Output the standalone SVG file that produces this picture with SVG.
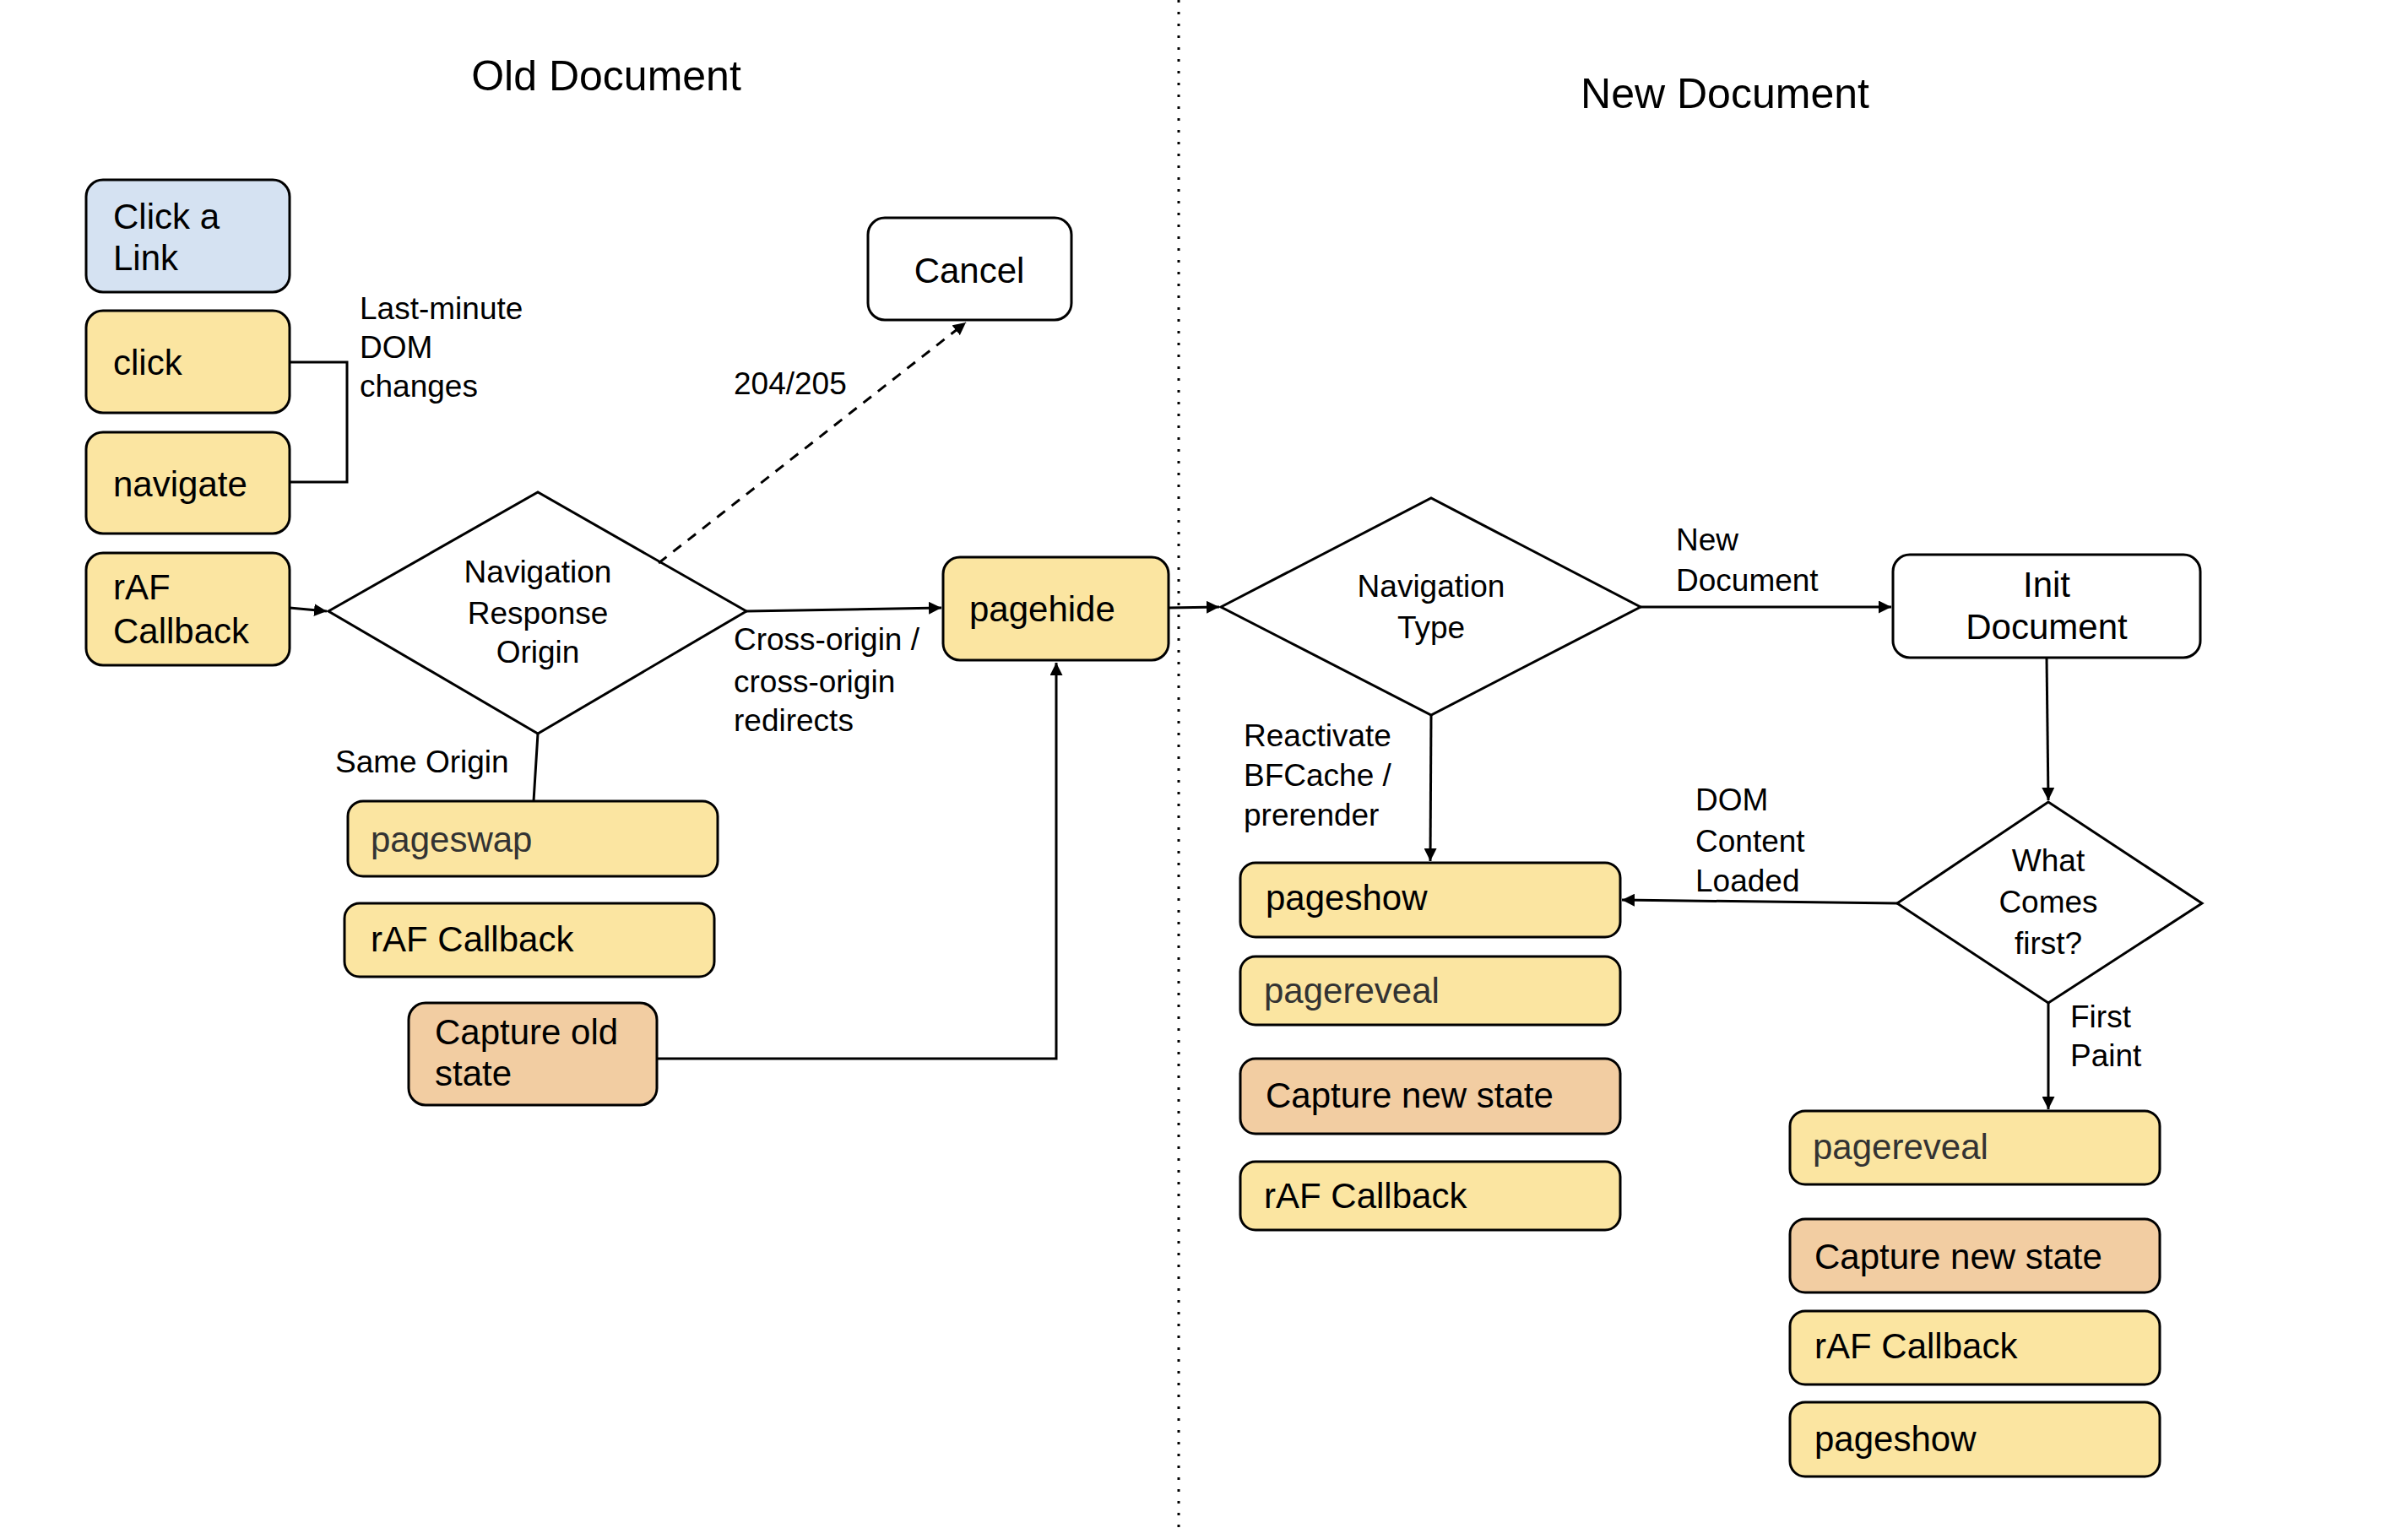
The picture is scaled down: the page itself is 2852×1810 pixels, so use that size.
<svg xmlns="http://www.w3.org/2000/svg" width="2852" height="1810" viewBox="0 0 2852 1810">
<style>
.b{stroke:#000;stroke-width:3}
.y{fill:#fbe5a1}.o{fill:#f2cda2}.u{fill:#d5e2f2}.w{fill:#fff}
text{font-family:"Liberation Sans",Arial,sans-serif;fill:#000}
.t{font-size:42px}.l{font-size:37px}.h{font-size:50px}
.g{fill:#333}
.c{fill:none;stroke:#000;stroke-width:3}
</style>
<defs><marker id="a" viewBox="0 0 10 10" refX="10" refY="5" markerWidth="5" markerHeight="5" orient="auto"><path d="M0,0L10,5L0,10z"/></marker></defs>
<rect width="2852" height="1810" fill="#fff"/>
<line x1="1396" y1="0" x2="1396" y2="1810" stroke="#000" stroke-width="3" stroke-dasharray="3,11"/>
<text class="h" x="718" y="107" text-anchor="middle">Old Document</text>
<text class="h" x="2043" y="128" text-anchor="middle">New Document</text>
<g id="n1"><rect class="b u" x="102" y="213" width="241" height="133" rx="20"/><text class="t" x="134" y="271">Click a</text><text class="t" x="134" y="320">Link</text></g>
<g id="n2"><rect class="b y" x="102" y="368" width="241" height="121" rx="20"/><text class="t" x="134" y="444">click</text></g>
<g id="n3"><rect class="b y" x="102" y="512" width="241" height="120" rx="20"/><text class="t" x="134" y="588">navigate</text></g>
<g id="n4"><rect class="b y" x="102" y="655" width="241" height="133" rx="20"/><text class="t" x="134" y="710">rAF</text><text class="t" x="134" y="762">Callback</text></g>
<g id="n5"><rect class="b w" x="1028" y="258" width="241" height="121" rx="20"/><text class="t" x="1148" y="335" text-anchor="middle">Cancel</text></g>
<g id="n6"><polygon class="b w" points="389,724 637,583 884,724 637,869"/><text class="l" text-anchor="middle" x="637" y="690">Navigation</text><text class="l" text-anchor="middle" x="637" y="739">Response</text><text class="l" text-anchor="middle" x="637" y="785">Origin</text></g>
<g id="n7"><rect class="b y" x="1117" y="660" width="267" height="122" rx="20"/><text class="t" x="1148" y="736">pagehide</text></g>
<g id="n8"><rect class="b y" x="412" y="949" width="438" height="89" rx="18"/><text class="t g" x="439" y="1009">pageswap</text></g>
<g id="n9"><rect class="b y" x="408" y="1070" width="438" height="87" rx="18"/><text class="t" x="439" y="1127">rAF Callback</text></g>
<g id="n10"><rect class="b o" x="484" y="1188" width="294" height="121" rx="20"/><text class="t" x="515" y="1237">Capture old</text><text class="t" x="515" y="1286">state</text></g>
<g id="n11"><polygon class="b w" points="1446,719 1695,590 1943,719 1695,847"/><text class="l" text-anchor="middle" x="1695" y="707">Navigation</text><text class="l" text-anchor="middle" x="1695" y="756">Type</text></g>
<g id="n12"><rect class="b w" x="2242" y="657" width="364" height="122" rx="20"/><text class="t" text-anchor="middle" x="2424" y="707">Init</text><text class="t" text-anchor="middle" x="2424" y="757">Document</text></g>
<g id="n13"><polygon class="b w" points="2247,1070 2426,950 2608,1070 2426,1188"/><text class="l" text-anchor="middle" x="2426" y="1032">What</text><text class="l" text-anchor="middle" x="2426" y="1081">Comes</text><text class="l" text-anchor="middle" x="2426" y="1130">first?</text></g>
<g id="n14"><rect class="b y" x="1469" y="1022" width="450" height="88" rx="18"/><text class="t" x="1499" y="1078">pageshow</text></g>
<g id="n15"><rect class="b y" x="1469" y="1133" width="450" height="81" rx="18"/><text class="t g" x="1497" y="1188">pagereveal</text></g>
<g id="n16"><rect class="b o" x="1469" y="1254" width="450" height="89" rx="18"/><text class="t" x="1499" y="1312">Capture new state</text></g>
<g id="n17"><rect class="b y" x="1469" y="1376" width="450" height="81" rx="18"/><text class="t" x="1497" y="1431">rAF Callback</text></g>
<g id="n18"><rect class="b y" x="2120" y="1316" width="438" height="87" rx="18"/><text class="t g" x="2147" y="1373">pagereveal</text></g>
<g id="n19"><rect class="b o" x="2120" y="1444" width="438" height="87" rx="18"/><text class="t" x="2149" y="1503">Capture new state</text></g>
<g id="n20"><rect class="b y" x="2120" y="1553" width="438" height="87" rx="18"/><text class="t" x="2149" y="1609">rAF Callback</text></g>
<g id="n21"><rect class="b y" x="2120" y="1661" width="438" height="88" rx="18"/><text class="t" x="2149" y="1719">pageshow</text></g>
<g id="connectors">
<polyline class="c" points="343,429 411,429 411,571 343,571"/>
<line class="c" x1="343" y1="720" x2="387" y2="724" marker-end="url(#a)"/>
<line class="c" x1="780" y1="667" x2="1144" y2="382" stroke-dasharray="12,10" marker-end="url(#a)"/>
<line class="c" x1="884" y1="724" x2="1115" y2="720" marker-end="url(#a)"/>
<line class="c" x1="637" y1="869" x2="632" y2="949"/>
<polyline class="c" points="778,1254 1251,1254 1251,785" marker-end="url(#a)"/>
<line class="c" x1="1384" y1="720" x2="1444" y2="719" marker-end="url(#a)"/>
<line class="c" x1="1943" y1="719" x2="2240" y2="719" marker-end="url(#a)"/>
<line class="c" x1="1695" y1="847" x2="1694" y2="1020" marker-end="url(#a)"/>
<line class="c" x1="2424" y1="779" x2="2426" y2="948" marker-end="url(#a)"/>
<line class="c" x1="2247" y1="1070" x2="1921" y2="1066" marker-end="url(#a)"/>
<line class="c" x1="2426" y1="1188" x2="2426" y2="1314" marker-end="url(#a)"/>
<text class="l" x="426" y="378">Last-minute</text><text class="l" x="426" y="424">DOM</text><text class="l" x="426" y="470">changes</text>
<text class="l" x="869" y="467">204/205</text>
<text class="l" x="869" y="770">Cross-origin /</text><text class="l" x="869" y="820">cross-origin</text><text class="l" x="869" y="866">redirects</text>
<text class="l" x="397" y="915">Same Origin</text>
<text class="l" x="1985" y="652">New</text><text class="l" x="1985" y="700">Document</text>
<text class="l" x="1473" y="884">Reactivate</text><text class="l" x="1473" y="931">BFCache /</text><text class="l" x="1473" y="978">prerender</text>
<text class="l" x="2008" y="960">DOM</text><text class="l" x="2008" y="1009">Content</text><text class="l" x="2008" y="1056">Loaded</text>
<text class="l" x="2452" y="1217">First</text><text class="l" x="2452" y="1263">Paint</text>
</g>
</svg>
